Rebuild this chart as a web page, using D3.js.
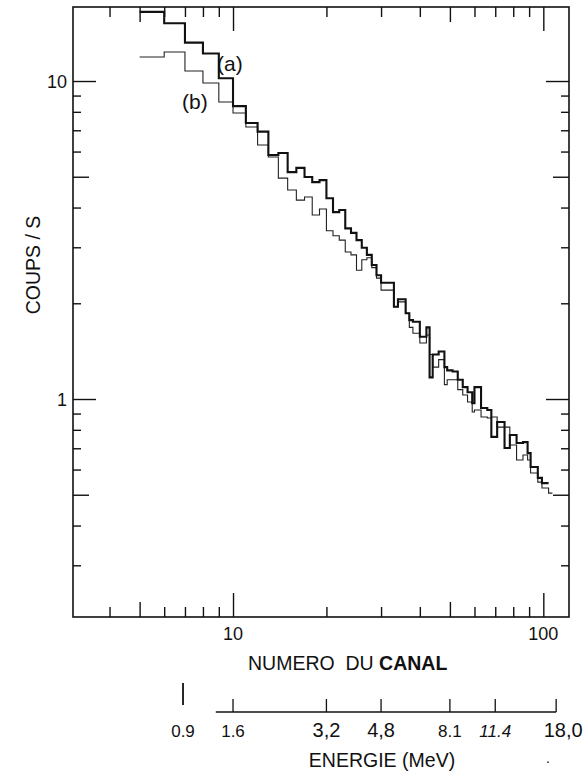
<!DOCTYPE html>
<html>
<head>
<meta charset="utf-8">
<script src="https://cdn.jsdelivr.net/npm/d3@7"></script>
<style>
  body { margin: 0; background: #fff; }
  svg { display: block; }
  text { font-family: "Liberation Sans", Arial, Helvetica, sans-serif; fill: #111; }
</style>
</head>
<body>
<svg id="chart" width="584" height="771"></svg>
<script>
// Bin edges (channel numbers) shared by both spectra
const channelEdges = [5, 6, 7, 8, 9, 10, 11, 12, 13, 14, 15, 16, 17, 18, 19, 20, 21, 22, 23, 24, 25, 26, 27, 28, 29, 30,
  33, 34, 36, 37, 38, 40, 42, 43, 44, 46, 48, 49, 51, 53, 55, 57, 59, 60, 63, 66, 68, 71, 75, 78, 82, 86, 89, 91, 96, 99, 104, 107];

// Count rates (coups/s) per bin; null = no data in that bin
const countsA = [16.5, 15.2, 13.2, 12.2, 10.2, 8.34, 7.38, 6.93, 5.85, 5.94, 5.17, 5.33, 4.99, 4.81, 4.88, 4.28, 3.87, 3.93, 3.44, 3.33, 3.16, 2.99, 2.84, 2.64, 2.45,
  2.32, 1.95, 2.06, 1.86, 1.77, 1.75, 1.57, 1.68, 1.17, 1.38, 1.41, 1.26, 1.23, 1.22, 1.15, 1.09, 1.05, 0.971, 1.09, 0.937, 0.924,
  0.760, 0.847, 0.701, 0.771, 0.727, 0.732, 0.676, 0.611, 0.565, 0.544, null];
const countsB = [11.9, 12.34, 10.75, 9.86, 8.59, 7.93, 7.17, 6.29, 5.77, 4.95, 4.54, 4.22, 4.32, 3.79, 3.96, 3.38, 3.26, 3.16, 2.90, 2.84, 2.54, 2.74, 2.78, 2.59, 2.40,
  2.20, 1.95, 2.02, 1.86, 1.68, 1.61, 1.50, 1.59, 1.38, 1.26, 1.33, 1.11, 1.15, 1.15, 1.07, 1.03, 0.979, 0.910, 0.924, 0.878, 0.872,
  0.878, 0.816, 0.816, 0.717, 0.643, 0.667, 0.643, 0.585, 0.548, 0.525, 0.506];

// Axis ticks
const xMajorTicks = [10, 100];
const xMidTicks = [5, 50];
const xMinorTicks = [4, 6, 7, 8, 9, 20, 30, 40, 60, 70, 80, 90];
const xTickLabels = ["10", "100"];
const yMajorTicks = [1, 10];
const yMidTicks = [0.5, 5];
const yMinorTicks = [0.3, 0.4, 0.6, 0.7, 0.8, 0.9, 2, 3, 4, 6, 7, 8, 9];
const yTickLabels = ["1", "10"];

// Secondary energy scale under the channel axis
const energyLabels = ["0.9", "1.6", "3,2", "4,8", "8.1", "11.4", "18,0"];
const energyChannels = [6.9, 10, 20, 30, 50, 70, 110];

const svg = d3.select("#chart");
const pLeft = 73, pRight = 569, pTop = 7, pBottom = 617;

const x = d3.scaleLog().domain([3.05, 121]).range([pLeft, pRight]);
const y = d3.scaleLog().domain([0.2063, 17.09]).range([pBottom, pTop]);

// Frame
svg.append("rect")
  .attr("x", pLeft).attr("y", pTop)
  .attr("width", pRight - pLeft).attr("height", pBottom - pTop)
  .attr("fill", "none").attr("stroke", "#111").attr("stroke-width", 1.6);

// Inward ticks on all four sides
function styleTicks(g) {
  g.select(".domain").remove();
  g.selectAll("line").attr("stroke", "#111").attr("stroke-width", 1.4);
}
function xTickSet(values, len) {
  svg.append("g").attr("transform", `translate(0,${pBottom})`)
    .call(d3.axisBottom(x).tickValues(values).tickSize(-len).tickFormat(""))
    .call(styleTicks);
  svg.append("g").attr("transform", `translate(0,${pTop})`)
    .call(d3.axisTop(x).tickValues(values).tickSize(-len).tickFormat(""))
    .call(styleTicks);
}
xTickSet(xMajorTicks, 24);
xTickSet(xMidTicks, 15);
xTickSet(xMinorTicks, 10);

function yTickSet(values, len) {
  svg.append("g").attr("transform", `translate(${pLeft},0)`)
    .call(d3.axisLeft(y).tickValues(values).tickSize(-len).tickFormat(""))
    .call(styleTicks);
  svg.append("g").attr("transform", `translate(${pRight},0)`)
    .call(d3.axisRight(y).tickValues(values).tickSize(-len).tickFormat(""))
    .call(styleTicks);
}
yTickSet(yMajorTicks, 23);
yTickSet(yMidTicks, 16);
yTickSet(yMinorTicks, 8);

// Tick labels
svg.selectAll(".xlab").data(xMajorTicks).join("text")
  .attr("x", d => x(d)).attr("y", 640)
  .attr("text-anchor", "middle").attr("font-size", 18)
  .text((d, i) => xTickLabels[i]);
svg.selectAll(".ylab").data(yMajorTicks).join("text")
  .attr("x", 67).attr("y", d => y(d) + 7)
  .attr("text-anchor", "end").attr("font-size", 18)
  .text((d, i) => yTickLabels[i]);

// Step histograms
function stepPoints(counts) {
  const pts = [];
  counts.forEach((c, i) => { if (c != null) pts.push([channelEdges[i], c, i]); });
  const last = pts[pts.length - 1];
  pts.push([channelEdges[last[2] + 1], last[1]]);
  return pts;
}
const stepLine = d3.line().x(d => x(d[0])).y(d => y(d[1])).curve(d3.curveStepAfter);

svg.append("clipPath").attr("id", "plotClip")
  .append("rect").attr("x", pLeft).attr("y", pTop).attr("width", pRight - pLeft).attr("height", pBottom - pTop);

const plot = svg.append("g").attr("clip-path", "url(#plotClip)");
plot.append("path").datum(stepPoints(countsB))
  .attr("d", stepLine).attr("fill", "none")
  .attr("stroke", "#222").attr("stroke-width", 1.1);
plot.append("path").datum(stepPoints(countsA))
  .attr("d", stepLine).attr("fill", "none")
  .attr("stroke", "#111").attr("stroke-width", 2.1).attr("stroke-linejoin", "miter");

// Curve labels
svg.append("text").attr("x", 217).attr("y", 71).attr("font-size", 21).text("(a)");
svg.append("text").attr("x", 182).attr("y", 109).attr("font-size", 21).text("(b)");

// Axis titles
svg.append("text")
  .attr("transform", "translate(40,265) rotate(-90)")
  .attr("text-anchor", "middle").attr("font-size", 19.5)
  .text("COUPS / S");

const xTitle = svg.append("text").attr("x", 248).attr("y", 670).attr("font-size", 19.5);
xTitle.append("tspan").text("NUMERO\u00a0\u00a0DU ");
xTitle.append("tspan").attr("font-weight", "bold").text("CANAL");

// Energy scale
const eY = 712;
svg.append("line")
  .attr("x1", x(8.8)).attr("x2", x(energyChannels[energyChannels.length - 1]))
  .attr("y1", eY).attr("y2", eY)
  .attr("stroke", "#111").attr("stroke-width", 1.3);
svg.selectAll(".etick").data(energyChannels).join("line")
  .attr("x1", d => x(d)).attr("x2", d => x(d))
  .attr("y1", (d, i) => i === 0 ? 683 : eY - 13)
  .attr("y2", (d, i) => i === 0 ? 705 : eY)
  .attr("stroke", "#111").attr("stroke-width", (d, i) => i === 0 ? 1.8 : 1.3);
const eSizes = [17, 17, 20, 20, 17, 17, 20];
svg.selectAll(".elab").data(energyChannels).join("text")
  .attr("x", (d, i) => x(d) + (i === energyChannels.length - 1 ? 7 : 0))
  .attr("y", 737)
  .attr("text-anchor", "middle")
  .attr("font-size", (d, i) => eSizes[i])
  .attr("font-style", (d, i) => energyLabels[i] === "11.4" ? "italic" : "normal")
  .text((d, i) => energyLabels[i]);

svg.append("text").attr("x", 382).attr("y", 767)
  .attr("text-anchor", "middle").attr("font-size", 19.5)
  .text("ENERGIE (MeV)");
svg.append("text").attr("x", 546).attr("y", 763).attr("font-size", 14).text(".");
</script>
</body>
</html>
